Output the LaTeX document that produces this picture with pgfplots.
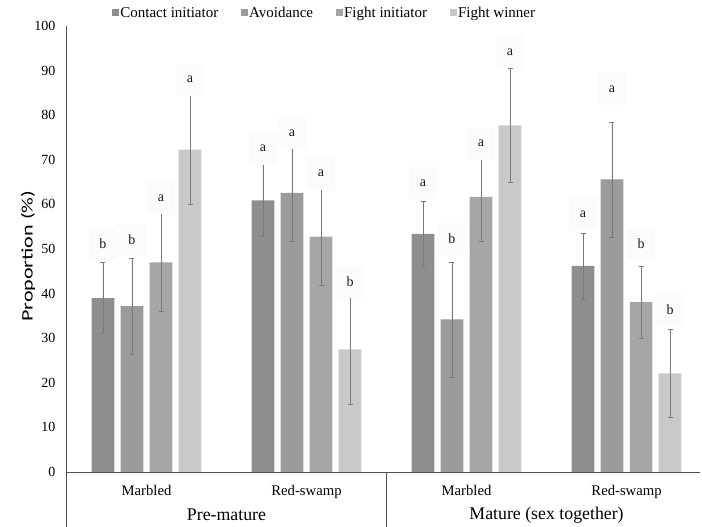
\documentclass[border=0pt]{standalone}
\usepackage{graphicx}
\usepackage{fontspec}
\setmainfont{Liberation Serif}
\newfontfamily\carlito{Carlito}
\usepackage{pgfplots}
\usepackage{pgfplotstable}
\pgfplotsset{compat=1.18}
\usetikzlibrary{calc}
\definecolor{cA}{HTML}{8E8E8E}
\definecolor{cB}{HTML}{9B9B9B}
\definecolor{cC}{HTML}{A6A6A6}
\definecolor{cD}{HTML}{C9C9C9}
\definecolor{errgray}{HTML}{7A7A7A}
\definecolor{axgray}{HTML}{505050}

\pgfplotsset{
  mybar/.style={ybar, bar shift=0pt, bar width=0.142, draw=none,
    error bars/y dir=both, error bars/y explicit,
    error bars/error bar style={line width=0.7pt, errgray},
    error bars/error mark options={rotate=90, mark size=2.5pt, line width=0.7pt, errgray}},
  mylet/.style={forget plot, only marks, mark=none, nodes near coords,
    point meta=explicit symbolic,
    every node near coord/.append style={anchor=center, font=\fontsize{14}{14}\selectfont,
     fill=black!1.5, minimum width=28pt, minimum height=32pt, text=black!90}},
}

\pgfplotstableread{
x y err ly lab
-0.272 39.0 8.0 51.1 b
0.728 60.9 8.0 72.5 a
1.728 53.4 7.3 64.8 a
2.728 46.2 7.4 57.8 a
}\tA
\pgfplotstableread{
x y err ly lab
-0.091 37.2 10.8 52.0 b
0.909 62.6 10.8 76.0 a
1.909 34.2 12.9 52.3 b
2.909 65.6 12.9 85.8 a
}\tB
\pgfplotstableread{
x y err ly lab
0.091 47.0 11.0 61.4 a
1.091 52.8 11.0 66.9 a
2.091 61.7 10.0 73.6 a
3.091 38.1 8.1 51.1 b
}\tC
\pgfplotstableread{
x y err ly lab
0.272 72.3 12.4 88.0 a
1.272 27.5 12.4 42.7 b
2.272 77.7 12.7 94.1 a
3.272 22.1 9.9 36.3 b
}\tD

\begin{document}
\begin{tikzpicture}
\begin{axis}[
  name=ax,
  scale only axis,
  width=634pt, height=446pt,
  xmin=-0.503, xmax=3.459,
  ymin=0, ymax=100,
  ytick={0,10,...,100},
  xtick={0,1,2,3},
  xticklabels={Marbled,Red-swamp,Marbled,Red-swamp},
  axis x line=bottom, axis y line=left,
  axis line style={-, axgray, line width=0.9pt},
  major tick length=0pt,
  tick label style={font=\fontsize{14}{14}\selectfont},
  /pgf/number format/assume math mode=true,
  yticklabel style={xshift=-7pt},
  xticklabel style={font=\fontsize{14.7}{14.7}\selectfont, yshift=-10pt},
  ylabel={\scalebox{1.38}[1]{\carlito\fontsize{16}{16}\selectfont Proportion (\%)}},
  ylabel style={at={(axis description cs:-0.06,0.484)}, anchor=center},
  clip=false,
  legend style={at={(axis description cs:0.072,1)}, anchor=west, yshift=13pt,
    draw=none, fill=none, inner sep=0pt,
    font=\fontsize{15}{15}\selectfont,
    nodes={inner sep=1.5pt},
    /tikz/every even column/.append style={column sep=21pt}},
  legend columns=-1,
  legend image code/.code={\fill[#1] (0pt,-3.5pt) rectangle (7pt,3.5pt);},
]
\addplot[mylet] table[x=x, y=ly, meta=lab] {\tA};
\addplot[mylet] table[x=x, y=ly, meta=lab] {\tB};
\addplot[mylet] table[x=x, y=ly, meta=lab] {\tC};
\addplot[mylet] table[x=x, y=ly, meta=lab] {\tD};
\addplot[mybar, fill=cA] table[x=x, y=y, y error=err] {\tA};
\addplot[mybar, fill=cB] table[x=x, y=y, y error=err] {\tB};
\addplot[mybar, fill=cC] table[x=x, y=y, y error=err] {\tC};
\addplot[mybar, fill=cD] table[x=x, y=y, y error=err] {\tD};
\legend{Contact initiator, Avoidance, Fight initiator, Fight winner}
\draw[axgray, line width=0.9pt] (rel axis cs:0,0) -- ++(0pt,-55pt);
\draw[axgray, line width=0.9pt] (axis cs:1.5,0) -- ++(0pt,-55pt);
\node[font=\fontsize{17.8}{17.8}\selectfont] at ($(axis cs:0.5,0)+(0pt,-43pt)$) {Pre-mature};
\node[font=\fontsize{17.8}{17.8}\selectfont] at ($(axis cs:2.5,0)+(0pt,-43pt)$) {Mature (sex together)};
\end{axis}
\pgfresetboundingbox
\path ($(ax.south west)+(-66pt,-55pt)$) rectangle ($(ax.north east)+(2pt,26pt)$);
\end{tikzpicture}
\end{document}
